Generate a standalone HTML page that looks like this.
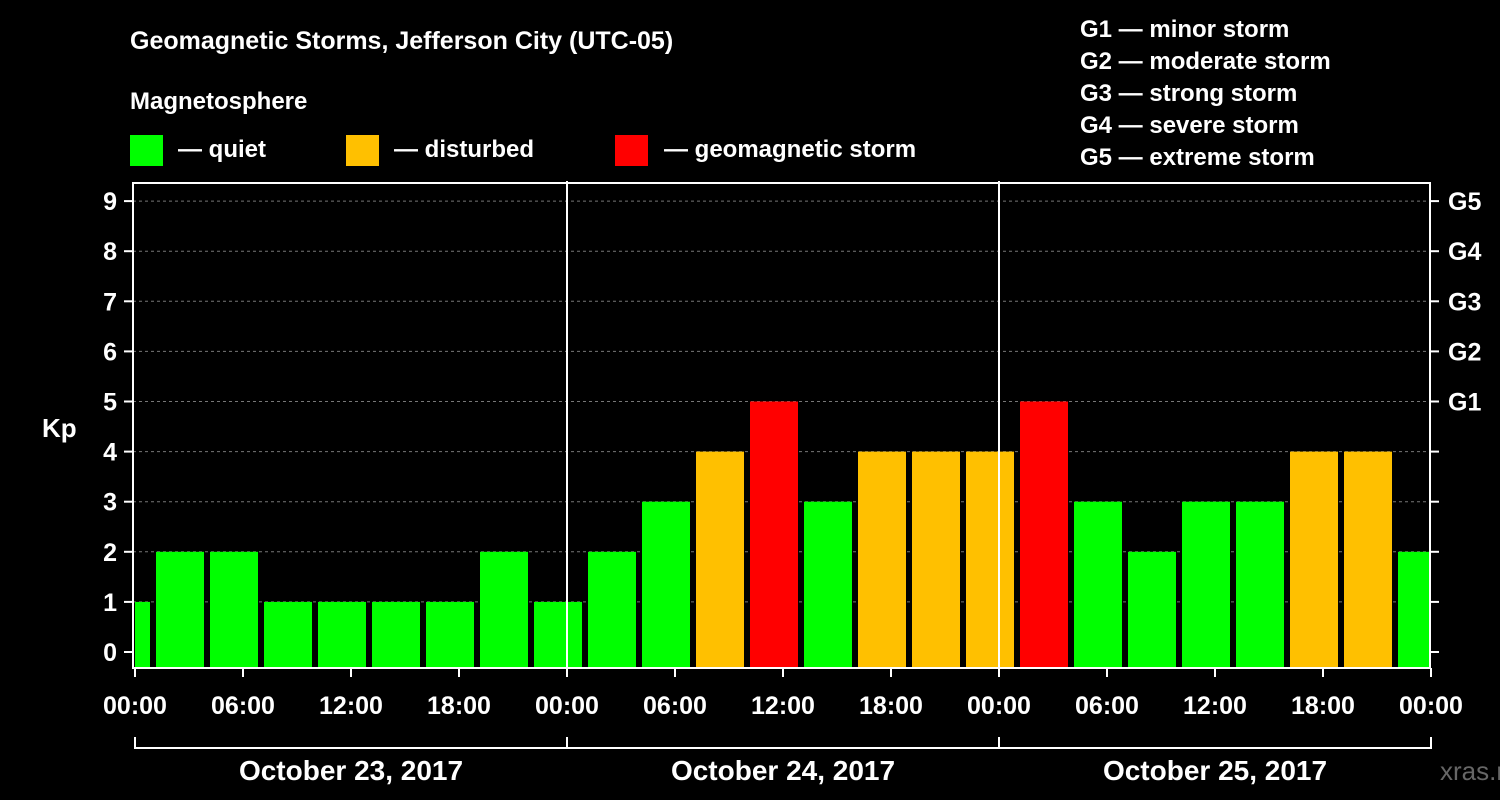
<!DOCTYPE html>
<html><head><meta charset="utf-8"><style>
html,body{margin:0;padding:0;background:#000;}
svg{display:block;font-family:"Liberation Sans",Arial,sans-serif;font-weight:bold;}
</style></head><body>
<svg width="1500" height="800" viewBox="0 0 1500 800">
<rect width="1500" height="800" fill="#000"/>
<text x="130" y="49" fill="#fff" font-size="25">Geomagnetic Storms, Jefferson City (UTC-05)</text>
<text x="130" y="109" fill="#fff" font-size="24">Magnetosphere</text>
<g><rect x="130" y="135" width="33" height="31" fill="#00ff00"/><text x="178" y="157" fill="#fff" font-size="24">— quiet</text></g>
<g><rect x="346" y="135" width="33" height="31" fill="#ffc000"/><text x="394" y="157" fill="#fff" font-size="24">— disturbed</text></g>
<g><rect x="615" y="135" width="33" height="31" fill="#ff0000"/><text x="664" y="157" fill="#fff" font-size="24">— geomagnetic storm</text></g>
<g fill="#fff" font-size="24">
<text x="1080" y="37">G1 — minor storm</text><text x="1080" y="69">G2 — moderate storm</text><text x="1080" y="101">G3 — strong storm</text><text x="1080" y="133">G4 — severe storm</text><text x="1080" y="165">G5 — extreme storm</text>
</g>
<text x="42" y="437" fill="#fff" font-size="26">Kp</text>
<g id="grid"></g><g id="bars"></g><g id="axes"></g>
<text x="1440" y="780" fill="#666" font-size="26" font-weight="normal">xras.ru</text>
</svg>
<script>
const kpValues=[1,2,2,1,1,1,1,2,1,2,3,4,5,3,4,4,4,5,3,2,3,3,4,4,2];
const blockStartHours=[-2,1,4,7,10,13,16,19,22,25,28,31,34,37,40,43,46,49,52,55,58,61,64,67,70];
const xTickLabels=["00:00","06:00","12:00","18:00","00:00","06:00","12:00","18:00","00:00","06:00","12:00","18:00","00:00"];
const dayLabels=["October 23, 2017","October 24, 2017","October 25, 2017"];
const yTicks=[0,1,2,3,4,5,6,7,8,9];
const gLabels={5:"G1",6:"G2",7:"G3",8:"G4",9:"G5"};
const NS="http://www.w3.org/2000/svg";
const X=h=>135+h*18;
const Y=k=>652-k*50.1;
function mk(tag,attrs,parent,text){const e=document.createElementNS(NS,tag);for(const k in attrs)e.setAttribute(k,attrs[k]);if(text!==undefined)e.textContent=text;parent.appendChild(e);return e;}
const grid=document.getElementById('grid'),bars=document.getElementById('bars'),axes=document.getElementById('axes');
yTicks.forEach(k=>{if(k>0){const l=mk('line',{x1:133,x2:1430,y1:Y(k),y2:Y(k),stroke:'#777','stroke-dasharray':'3,3','stroke-width':1},grid);

}});
kpValues.forEach((v,i)=>{
 const s=Math.max(0,blockStartHours[i]),e=Math.min(72,blockStartHours[i]+3);
 const x0=X(s)+(blockStartHours[i]<0?0:3),x1=X(e)-(blockStartHours[i]+3>72?2:3);
 const c=v>=5?'#ff0000':(v>=4?'#ffc000':'#00ff00');
 const r=mk('rect',{x:x0,y:Y(v),width:x1-x0,height:668-Y(v),fill:c},bars);
 
 
});
// frame
let f=mk('path',{d:'M133 183 H1430 V668 H133 Z',fill:'none',stroke:'#fff','stroke-width':2},axes);


[24,48].forEach(h=>{const l=mk('line',{x1:X(h),x2:X(h),y1:181,y2:668,stroke:'#fff','stroke-width':2},axes);

});
yTicks.forEach(k=>{
 mk('line',{x1:124,x2:133,y1:Y(k),y2:Y(k),stroke:'#fff','stroke-width':2},axes);
 mk('line',{x1:1430,x2:1439,y1:Y(k),y2:Y(k),stroke:'#fff','stroke-width':2},axes);
 const t=mk('text',{x:117,y:Y(k)+9,fill:'#fff','font-size':25,'text-anchor':'end'},axes,String(k));
 
 
 if(gLabels[k]){const g=mk('text',{x:1448,y:Y(k)+9,fill:'#fff','font-size':25},axes,gLabels[k]);
 
 }
});
xTickLabels.forEach((lab,i)=>{const h=i*6;
 mk('line',{x1:X(h),x2:X(h),y1:668,y2:677,stroke:'#fff','stroke-width':2},axes);
 const t=mk('text',{x:X(h),y:714,fill:'#fff','font-size':25,'text-anchor':'middle'},axes,lab);
 
 
});
mk('line',{x1:X(0),x2:X(72),y1:748,y2:748,stroke:'#fff','stroke-width':2},axes);
[0,24,48,72].forEach(h=>mk('line',{x1:X(h),x2:X(h),y1:737,y2:749,stroke:'#fff','stroke-width':2},axes));
dayLabels.forEach((d,i)=>{const t=mk('text',{x:X(i*24+12),y:780,fill:'#fff','font-size':28,'text-anchor':'middle'},axes,d);
 
 });
</script>
</body></html>
